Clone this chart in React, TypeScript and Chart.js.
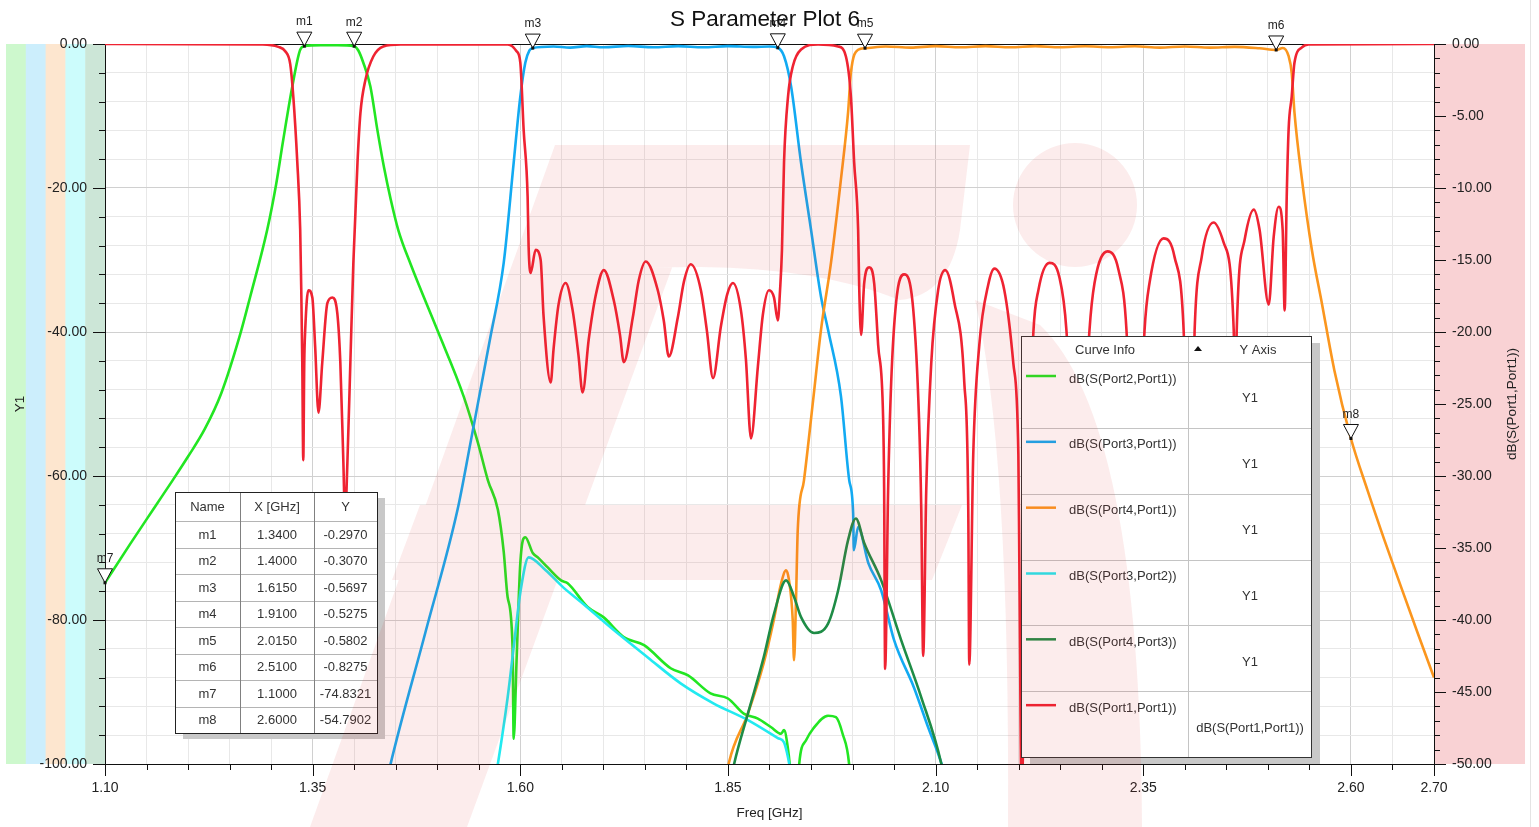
import { useEffect, useRef } from "react";
import { Chart, registerables } from "chart.js";

Chart.register(...registerables);

const FONT = '"Liberation Sans", Arial, sans-serif';

// [frequency GHz, level dB]
const s21: [number, number][] = [
  [1.1, -74.83], [1.13, -69.5], [1.16, -64.3], [1.182, -60.5], [1.2, -57.3], [1.22, -53.5],
  [1.24, -48.5], [1.2628, -40.3], [1.2748, -35.1], [1.2953, -25.8], [1.306, -19.5], [1.3146, -13.3],
  [1.3255, -5.9], [1.335, -0.8], [1.34, -0.297], [1.36, -0.15], [1.38, -0.15], [1.4, -0.307],
  [1.405, -0.9], [1.411, -2.6], [1.4195, -5.9], [1.428, -12.0], [1.436, -17.2], [1.444, -21.6],
  [1.453, -25.8], [1.468, -30.6], [1.5, -39.7], [1.532, -49.0], [1.549, -55.4], [1.561, -60.6],
  [1.573, -64.7], [1.58, -70.5], [1.5847, -76.8], [1.5907, -83.8], [1.592, -96.5], [1.5955, -85.6],
  [1.6, -72.1], [1.606, -68.5], [1.615, -70.7], [1.622, -71.4], [1.633, -72.7], [1.649, -74.5],
  [1.657, -74.9], [1.681, -78.2], [1.7, -79.6], [1.725, -82.4], [1.749, -83.5], [1.781, -86.7],
  [1.802, -87.7], [1.829, -90.2], [1.85, -90.9], [1.869, -93.0], [1.886, -93.7], [1.902, -94.9],
  [1.914, -95.8], [1.9175, -95.3], [1.922, -97.7], [1.925, -101], [1.929, -110], [1.932, -110],
  [1.9356, -100.2], [1.944, -96.7], [1.9525, -95.1], [1.9705, -93.3], [1.98, -93.5], [1.988, -95.8],
  [1.996, -100.2], [1.999, -106],
];

const s31: [number, number][] = [
  [1.44, -102], [1.4436, -100.1], [1.4858, -81.7], [1.5244, -64.7], [1.54, -55.4], [1.564, -40.7],
  [1.58, -30.4], [1.592, -16.5], [1.6, -7.3], [1.606, -2.6], [1.611, -0.9], [1.615, -0.57],
  [1.64, -0.35], [1.66, -0.5], [1.68, -0.3], [1.7, -0.45], [1.73, -0.28], [1.76, -0.45],
  [1.79, -0.3], [1.82, -0.45], [1.85, -0.3], [1.88, -0.4], [1.9, -0.35], [1.91, -0.5275],
  [1.9175, -1.7], [1.926, -5.9], [1.938, -16.5], [1.95, -25.8], [1.962, -35.1], [1.9705, -39.7],
  [1.986, -48.9], [1.996, -60.6], [2.0007, -65.2], [2.0015, -70.3], [2.0067, -67.1], [2.019, -72.1],
  [2.0345, -75.9], [2.05, -82.8], [2.074, -89.4], [2.091, -94.9], [2.107, -99.9], [2.112, -102],
];

const s41: [number, number][] = [
  [1.848, -102], [1.851, -99.9], [1.874, -93.0], [1.893, -86.0], [1.905, -80.1], [1.914, -74.9],
  [1.92, -73.1], [1.9235, -74.5], [1.928, -80.1], [1.9295, -85.6], [1.932, -76.8], [1.934, -67.5],
  [1.9415, -60.6], [1.9525, -49.5], [1.962, -39.7], [1.974, -30.4], [1.986, -18.8], [1.9946, -9.5],
  [1.998, -4.0], [2.0067, -0.8], [2.015, -0.5802], [2.04, -0.35], [2.07, -0.5], [2.1, -0.3],
  [2.13, -0.45], [2.16, -0.3], [2.19, -0.45], [2.22, -0.3], [2.25, -0.45], [2.28, -0.32],
  [2.31, -0.45], [2.34, -0.32], [2.37, -0.5], [2.4, -0.35], [2.43, -0.5], [2.46, -0.4],
  [2.49, -0.6], [2.51, -0.8275], [2.518, -0.55], [2.525, -1.7], [2.5287, -4.0], [2.532, -9.5],
  [2.541, -18.8], [2.553, -28.6], [2.565, -36.0], [2.58, -45.3], [2.6, -54.79], [2.62, -62.0],
  [2.64, -68.8], [2.66, -75.3], [2.68, -81.7], [2.7, -88.0],
];

const s32: [number, number][] = [
  [1.57, -102], [1.5727, -100.2], [1.5847, -90.8], [1.592, -83.8], [1.6004, -75.9], [1.61, -71.3],
  [1.6305, -73.1], [1.652, -75.5], [1.673, -77.5], [1.7125, -81.4], [1.7535, -85.2], [1.793, -88.8],
  [1.833, -91.6], [1.874, -93.9], [1.91, -96.4], [1.9175, -97.0], [1.921, -98.4], [1.9246, -100.6],
  [1.926, -102],
];

const s43: [number, number][] = [
  [1.854, -102], [1.857, -100.2], [1.874, -93.0], [1.893, -85.2], [1.9055, -79.1], [1.92, -74.5],
  [1.9296, -76.8], [1.938, -79.6], [1.9536, -81.8], [1.9705, -80.5], [1.9826, -75.9], [1.9946, -68.9],
  [2.004, -65.9], [2.014, -69.3], [2.0345, -74.5], [2.0585, -82.8], [2.0826, -90.7], [2.1067, -99.9],
  [2.11, -102],
];

// return loss, plotted on the right axis
const s11: [number, number][] = [
  [1.1, 0], [1.29, -0.03], [1.3086, -0.2], [1.317, -0.5], [1.323, -1.4], [1.3267, -3.65],
  [1.3315, -8.2], [1.335, -12.9], [1.3363, -17.1], [1.3375, -22.1], [1.3387, -28.9], [1.3399, -22.1],
  [1.341, -19.9], [1.3448, -17.1], [1.3496, -17.6], [1.353, -21.0], [1.357, -25.6], [1.3616, -22.1],
  [1.3677, -18.0], [1.3737, -17.6], [1.3797, -18.7], [1.3833, -22.1], [1.387, -29.1], [1.389, -33],
  [1.3918, -29.1], [1.3954, -22.1], [1.399, -15.2], [1.404, -8.2], [1.4075, -4.8], [1.4135, -2.5],
  [1.423, -0.87], [1.435, -0.17], [1.456, -0.03], [1.585, -0.03], [1.5955, -0.5], [1.6, -1.3],
  [1.604, -5.95], [1.6088, -10.6], [1.61, -14.1], [1.6124, -15.9], [1.6185, -14.3], [1.6245, -15.0],
  [1.628, -18.9], [1.6366, -23.5], [1.64, -21.2], [1.646, -18.1], [1.6546, -16.6], [1.663, -18.5],
  [1.67, -21.6], [1.675, -24.2], [1.6824, -20.5], [1.691, -17.4], [1.7005, -15.7], [1.7125, -17.8],
  [1.72, -20.2], [1.7246, -22.1], [1.7354, -19.0], [1.7426, -16.4], [1.751, -15.1], [1.7655, -17.1],
  [1.7727, -19.2], [1.7788, -21.7], [1.7896, -19.0], [1.797, -16.5], [1.8053, -15.3], [1.8174, -17.1],
  [1.8246, -19.9], [1.832, -23.2], [1.8415, -19.6], [1.849, -17.4], [1.856, -16.6], [1.8656, -18.5],
  [1.8716, -21.9], [1.8777, -27.4], [1.886, -22.4], [1.892, -18.8], [1.8994, -17.1], [1.9054, -17.6],
  [1.91, -19.2], [1.9127, -17.1], [1.915, -14.3], [1.9175, -8.2], [1.9223, -3.65], [1.928, -1.56],
  [1.938, -0.38], [1.9585, -0.03], [1.9826, -0.17], [1.992, -0.87], [1.998, -3.65], [2.0019, -8.2],
  [2.0067, -12.9], [2.008, -16.9], [2.0103, -20.2], [2.014, -16.6], [2.02, -15.5], [2.026, -16.6],
  [2.0308, -20.9], [2.0368, -26.0], [2.038, -30.8], [2.0392, -43.4], [2.0428, -31.0], [2.0465, -23.5],
  [2.0525, -17.9], [2.062, -16.0], [2.073, -18.4], [2.08, -26.0], [2.0827, -32.3], [2.085, -42.5],
  [2.0887, -31.0], [2.0947, -22.2], [2.103, -17.1], [2.1116, -15.7], [2.1224, -17.9], [2.1345, -23.5],
  [2.1393, -32.3], [2.1405, -43.1], [2.1453, -28.5], [2.1526, -20.9], [2.1634, -16.7], [2.1707, -15.6],
  [2.1827, -17.1], [2.1936, -22.2], [2.1996, -28.5], [2.2008, -36.1], [2.2035, -52], [2.209, -35],
  [2.2177, -20.0], [2.2237, -17.1], [2.237, -15.2], [2.249, -16.2], [2.2575, -19.9], [2.264, -28],
  [2.2707, -40], [2.278, -28], [2.2852, -19.9], [2.2913, -16.6], [2.307, -14.4], [2.3202, -15.7],
  [2.3298, -19.9], [2.335, -28], [2.3407, -40], [2.346, -28], [2.3515, -19.9], [2.3575, -16.6],
  [2.3744, -13.5], [2.3877, -14.8], [2.3986, -19.9], [2.402, -27], [2.4058, -36], [2.409, -27],
  [2.4118, -19.9], [2.4203, -14.8], [2.4347, -12.4], [2.4468, -13.8], [2.4589, -19.9], [2.4607, -28],
  [2.4625, -19.9], [2.472, -13.6], [2.483, -11.5], [2.49, -12.9], [2.501, -18.1], [2.507, -13.4],
  [2.513, -11.3], [2.5178, -12.9], [2.5202, -18.5], [2.5227, -10.6], [2.525, -5.9], [2.5287, -3.65],
  [2.532, -1.3], [2.541, -0.24], [2.549, -0.03], [2.7, 0],
];

const curveNames = [
  "dB(S(Port2,Port1))",
  "dB(S(Port3,Port1))",
  "dB(S(Port4,Port1))",
  "dB(S(Port3,Port2))",
  "dB(S(Port4,Port3))",
  "dB(S(Port1,Port1))",
];
const curveAxes = ["Y1", "Y1", "Y1", "Y1", "Y1", "dB(S(Port1,Port1))"];
const curveColors = ["#22e622", "#12aaf2", "#fb961e", "#22eaf0", "#1e8c46", "#ef2332"];
const stripeColors = ["#cdf8cd", "#cceefc", "#fde6cf", "#ccfcfc", "#cce6d7"];
const rightStripe = "#f9d2d4";

const markerNames = ["m1", "m2", "m3", "m4", "m5", "m6", "m7", "m8"];
const markerFreqs = [1.34, 1.4, 1.615, 1.91, 2.015, 2.51, 1.1, 2.6];
const markerValues = [-0.297, -0.307, -0.5697, -0.5275, -0.5802, -0.8275, -74.8321, -54.7902];

const xLabelTicks = [1.1, 1.35, 1.6, 1.85, 2.1, 2.35, 2.6, 2.7];
const y1LabelTicks = [0, -20, -40, -60, -80, -100];
const y2LabelTicks = [0, -5, -10, -15, -20, -25, -30, -35, -40, -45, -50];

const steps = (from: number, to: number, step: number) => {
  const out: number[] = [];
  const n = Math.round((to - from) / step);
  for (let i = 0; i <= n; i++) out.push(+(from + i * step).toFixed(4));
  return out;
};
const xTicks = steps(1.1, 2.7, 0.05);
const y1Ticks = steps(-100, 0, 4);
const y2Ticks = steps(-50, 0, 1);

const isLabel = (list: number[], v: number) => list.some((t) => Math.abs(t - v) < 1e-6);

const bgPlugin = {
  id: "hfssBackground",
  beforeDraw(chart: any) {
    const { ctx, chartArea: a } = chart;
    ctx.save();
    ctx.fillStyle = "#ffffff";
    ctx.fillRect(0, 0, chart.width, chart.height);
    const sw = (a.left - 6) / stripeColors.length;
    stripeColors.forEach((c, i) => {
      ctx.fillStyle = c;
      ctx.fillRect(6 + i * sw, a.top, sw + 0.5, a.bottom - a.top);
    });
    ctx.fillStyle = rightStripe;
    ctx.fillRect(a.right, a.top, 91, a.bottom - a.top);
    ctx.strokeStyle = "#e4e4e4";
    ctx.beginPath();
    ctx.moveTo(1530.5, 0);
    ctx.lineTo(1530.5, chart.height);
    ctx.stroke();
    ctx.restore();
  },
  beforeDatasetsDraw(chart: any) {
    const { ctx, chartArea: a, scales } = chart;
    ctx.save();
    ctx.strokeStyle = "#111";
    ctx.lineWidth = 1;
    ctx.strokeRect(a.left + 0.5, a.top + 0.5, a.right - a.left, a.bottom - a.top);
    ctx.beginPath();
    scales.x.ticks.forEach((t: any) => {
      const px = Math.round(scales.x.getPixelForValue(t.value)) + 0.5;
      const len = isLabel(xLabelTicks, t.value) ? 12 : 6;
      ctx.moveTo(px, a.bottom);
      ctx.lineTo(px, a.bottom + len);
    });
    scales.y.ticks.forEach((t: any) => {
      const py = Math.round(scales.y.getPixelForValue(t.value)) + 0.5;
      const len = isLabel(y1LabelTicks, t.value) ? 12 : 6;
      ctx.moveTo(a.left - len, py);
      ctx.lineTo(a.left, py);
    });
    scales.y2.ticks.forEach((t: any) => {
      const py = Math.round(scales.y2.getPixelForValue(t.value)) + 0.5;
      const len = isLabel(y2LabelTicks, t.value) ? 12 : 6;
      ctx.moveTo(a.right, py);
      ctx.lineTo(a.right + len, py);
    });
    ctx.stroke();
    ctx.restore();
  },
};

function drawWatermark(ctx: CanvasRenderingContext2D) {
  ctx.save();
  ctx.fillStyle = "rgba(225, 40, 40, 0.09)";
  ctx.beginPath();
  // slanted stem
  ctx.moveTo(555, 145);
  ctx.lineTo(717, 145);
  ctx.lineTo(467, 827);
  ctx.lineTo(310, 827);
  ctx.closePath();
  // top bar
  ctx.moveTo(555, 145);
  ctx.lineTo(970, 145);
  ctx.lineTo(960, 230);
  ctx.quadraticCurveTo(950, 295, 900, 300);
  ctx.quadraticCurveTo(820, 268, 700, 267);
  ctx.lineTo(600, 268);
  ctx.closePath();
  // middle bar
  ctx.moveTo(420, 505);
  ctx.lineTo(962, 505);
  ctx.lineTo(932, 580);
  ctx.lineTo(392, 580);
  ctx.closePath();
  // leg
  ctx.moveTo(975, 300);
  ctx.lineTo(1040, 325);
  ctx.quadraticCurveTo(1140, 420, 1142, 827);
  ctx.lineTo(1008, 827);
  ctx.quadraticCurveTo(1010, 450, 975, 300);
  ctx.closePath();
  // dot
  ctx.moveTo(1137, 205);
  ctx.arc(1075, 205, 62, 0, Math.PI * 2);
  ctx.fill("nonzero");
  ctx.restore();
}

const overlayPlugin = {
  id: "hfssOverlay",
  afterDraw(chart: any) {
    const { ctx, chartArea: a, scales } = chart;
    ctx.save();

    // markers
    ctx.font = `12px ${FONT}`;
    ctx.textAlign = "center";
    ctx.textBaseline = "middle";
    markerNames.forEach((name, i) => {
      const px = scales.x.getPixelForValue(markerFreqs[i]);
      const py = scales.y.getPixelForValue(markerValues[i]);
      ctx.beginPath();
      ctx.moveTo(px, py);
      ctx.lineTo(px - 7.5, py - 14);
      ctx.lineTo(px + 7.5, py - 14);
      ctx.closePath();
      ctx.fillStyle = "#ffffff";
      ctx.fill();
      ctx.strokeStyle = "#111";
      ctx.lineWidth = 1;
      ctx.stroke();
      ctx.fillStyle = "#111";
      ctx.fillRect(px - 1.5, py - 1.5, 3, 3);
      ctx.fillStyle = "#222";
      ctx.fillText(name, px, py - 24);
    });

    // marker table
    const tX = 175, tY = 492, cols = [65, 74, 63], headH = 29, rowH = 26.5;
    const tW = cols[0] + cols[1] + cols[2];
    const tH = headH + rowH * markerNames.length;
    ctx.fillStyle = "#c8c8c8";
    ctx.fillRect(tX + 8, tY + 6, tW, tH);
    ctx.fillStyle = "#ffffff";
    ctx.fillRect(tX, tY, tW, tH);
    ctx.strokeStyle = "#b4b4b4";
    ctx.beginPath();
    for (let r = 0; r < markerNames.length; r++) {
      const yy = Math.round(tY + headH + r * rowH) + 0.5;
      ctx.moveTo(tX, yy);
      ctx.lineTo(tX + tW, yy);
    }
    ctx.stroke();
    ctx.strokeStyle = "#808080";
    ctx.beginPath();
    ctx.moveTo(tX + cols[0] + 0.5, tY);
    ctx.lineTo(tX + cols[0] + 0.5, tY + tH);
    ctx.moveTo(tX + cols[0] + cols[1] + 0.5, tY);
    ctx.lineTo(tX + cols[0] + cols[1] + 0.5, tY + tH);
    ctx.stroke();
    ctx.strokeStyle = "#222";
    ctx.strokeRect(tX + 0.5, tY + 0.5, tW, tH);
    ctx.font = `13px ${FONT}`;
    ctx.fillStyle = "#333";
    const cx = [tX + cols[0] / 2, tX + cols[0] + cols[1] / 2, tX + cols[0] + cols[1] + cols[2] / 2];
    ["Name", "X [GHz]", "Y"].forEach((h, i) => ctx.fillText(h, cx[i], tY + headH / 2 + 1));
    markerNames.forEach((name, r) => {
      const yy = tY + headH + r * rowH + rowH / 2 + 1;
      ctx.fillText(name, cx[0], yy);
      ctx.fillText(markerFreqs[r].toFixed(4), cx[1], yy);
      ctx.fillText(markerValues[r].toFixed(4), cx[2], yy);
    });

    // curve info box
    const lX = 1021, lY = 336, lW = 290, lH = 421, lHead = 26, divX = 1188;
    const lRow = (lH - lHead) / curveNames.length;
    ctx.fillStyle = "#c8c8c8";
    ctx.fillRect(lX + 9, lY + 7, lW, lH);
    ctx.fillStyle = "#ffffff";
    ctx.fillRect(lX, lY, lW, lH);
    ctx.strokeStyle = "#c4c4c4";
    ctx.beginPath();
    for (let r = 0; r < curveNames.length; r++) {
      const yy = Math.round(lY + lHead + r * lRow) + 0.5;
      ctx.moveTo(lX, yy);
      ctx.lineTo(lX + lW, yy);
    }
    ctx.moveTo(divX + 0.5, lY);
    ctx.lineTo(divX + 0.5, lY + lH);
    ctx.stroke();
    ctx.strokeStyle = "#333";
    ctx.strokeRect(lX + 0.5, lY + 0.5, lW, lH);
    ctx.fillStyle = "#333";
    ctx.font = `13px ${FONT}`;
    ctx.textAlign = "center";
    ctx.fillText("Curve Info", 1105, lY + lHead / 2 + 1);
    ctx.fillText("Y Axis", 1258, lY + lHead / 2 + 1);
    ctx.beginPath();
    ctx.moveTo(1198, lY + 10);
    ctx.lineTo(1202, lY + 15);
    ctx.lineTo(1194, lY + 15);
    ctx.closePath();
    ctx.fillStyle = "#111";
    ctx.fill();
    curveNames.forEach((name, r) => {
      const top = lY + lHead + r * lRow;
      ctx.strokeStyle = curveColors[r];
      ctx.lineWidth = 2.5;
      ctx.beginPath();
      ctx.moveTo(1026, top + 14);
      ctx.lineTo(1056, top + 14);
      ctx.stroke();
      ctx.fillStyle = "#333";
      ctx.textAlign = "left";
      ctx.fillText(name, 1069, top + 17);
      ctx.textAlign = "center";
      ctx.fillText(curveAxes[r], 1250, top + lRow / 2 + 4);
    });

    drawWatermark(ctx);

    // axis titles and plot title
    ctx.fillStyle = "#222";
    ctx.textAlign = "center";
    ctx.textBaseline = "middle";
    ctx.font = `13.5px ${FONT}`;
    ctx.fillText("Freq [GHz]", (a.left + a.right) / 2, 813);
    ctx.save();
    ctx.translate(20, (a.top + a.bottom) / 2);
    ctx.rotate(-Math.PI / 2);
    ctx.fillText("Y1", 0, 0);
    ctx.restore();
    ctx.save();
    ctx.translate(1512, (a.top + a.bottom) / 2);
    ctx.rotate(-Math.PI / 2);
    ctx.fillText("dB(S(Port1,Port1))", 0, 0);
    ctx.restore();
    ctx.fillStyle = "#111";
    ctx.font = `22.5px ${FONT}`;
    ctx.fillText("S Parameter Plot 6", 765, 20);
    ctx.restore();
  },
};

const seriesData = [s21, s31, s41, s32, s43, s11];
const seriesAxis = ["y", "y", "y", "y", "y", "y2"];
const seriesOrder = [5, 4, 3, 2, 1, 0];

export default function App() {
  const canvasRef = useRef<HTMLCanvasElement>(null);

  useEffect(() => {
    if (!canvasRef.current) return;

    const tickFont = { family: FONT, size: 14 };

    const chart = new Chart(canvasRef.current, {
      type: "line",
      data: {
        datasets: seriesData.map((d, i) => ({
          label: curveNames[i],
          data: d.map(([x, y]) => ({ x, y })),
          borderColor: curveColors[i],
          backgroundColor: curveColors[i],
          borderWidth: 2.6,
          pointRadius: 0,
          fill: false,
          cubicInterpolationMode: "monotone" as const,
          yAxisID: seriesAxis[i],
          order: seriesOrder[i],
        })),
      },
      options: {
        responsive: false,
        maintainAspectRatio: false,
        animation: false,
        events: [],
        layout: { padding: { top: 44, left: 0, right: 0, bottom: 0 } },
        plugins: {
          legend: { display: false },
          tooltip: { enabled: false },
          title: { display: false },
        },
        scales: {
          x: {
            type: "linear",
            min: 1.1,
            max: 2.7,
            afterBuildTicks: (s: any) => {
              s.ticks = xTicks.map((v) => ({ value: v }));
            },
            afterFit: (s: any) => {
              s.height = 63;
            },
            border: { display: false },
            grid: {
              drawTicks: false,
              lineWidth: 1,
              color: (c: any) => (c.tick && isLabel(xLabelTicks, c.tick.value) ? "#d0d0d0" : "#e8e8e8"),
            },
            ticks: {
              autoSkip: false,
              maxRotation: 0,
              minRotation: 0,
              padding: 16,
              color: "#222",
              font: tickFont,
              callback: (v: any) => (isLabel(xLabelTicks, +v) ? (+v).toFixed(2) : ""),
            },
          },
          y: {
            type: "linear",
            position: "left",
            min: -100,
            max: 0,
            afterBuildTicks: (s: any) => {
              s.ticks = y1Ticks.map((v) => ({ value: v }));
            },
            afterFit: (s: any) => {
              s.width = 105;
            },
            border: { display: false },
            grid: {
              drawTicks: false,
              lineWidth: 1,
              color: (c: any) => (c.tick && isLabel(y1LabelTicks, c.tick.value) ? "#d0d0d0" : "#e8e8e8"),
            },
            ticks: {
              autoSkip: false,
              padding: 18,
              color: "#222",
              font: tickFont,
              callback: (v: any) => (isLabel(y1LabelTicks, +v) ? (+v).toFixed(2) : ""),
            },
          },
          y2: {
            type: "linear",
            position: "right",
            min: -50,
            max: 0,
            afterBuildTicks: (s: any) => {
              s.ticks = y2Ticks.map((v) => ({ value: v }));
            },
            afterFit: (s: any) => {
              s.width = 105;
            },
            border: { display: false },
            grid: { display: false, drawTicks: false },
            ticks: {
              autoSkip: false,
              padding: 18,
              color: "#222",
              font: tickFont,
              callback: (v: any) => (isLabel(y2LabelTicks, +v) ? (+v).toFixed(2) : ""),
            },
          },
        },
      },
      plugins: [bgPlugin, overlayPlugin],
    } as any);

    return () => {
      chart.destroy();
    };
  }, []);

  return (
    <div style={{ position: "absolute", left: 0, top: 0, width: 1539, height: 827, background: "#fff" }}>
      <canvas
        ref={canvasRef}
        width={1539}
        height={827}
        style={{ display: "block", width: 1539, height: 827 }}
      />
    </div>
  );
}
